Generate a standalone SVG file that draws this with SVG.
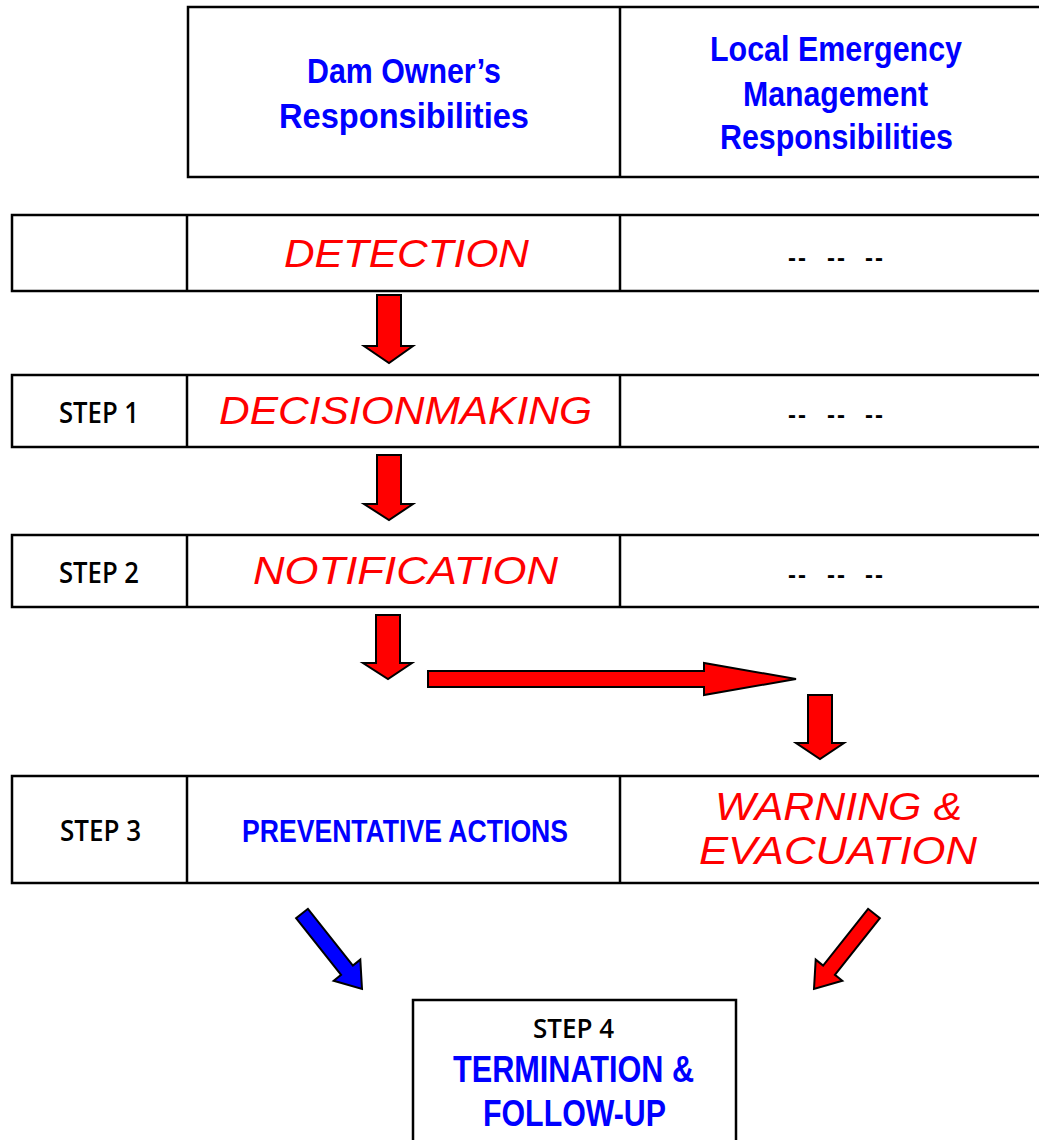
<svg xmlns="http://www.w3.org/2000/svg" width="1039" height="1140" viewBox="0 0 1039 1140">
<style>
.box{fill:#fff;stroke:#000;stroke-width:2.5}
.div{stroke:#000;stroke-width:2.5}
.blue{fill:#0000FF;font-family:'Liberation Sans Narrow','Arial Narrow','Liberation Sans',Arial,sans-serif;font-weight:bold}
.blk{fill:#000;font-family:'Open Sans','Liberation Sans',Arial,sans-serif;font-weight:600}
.red{fill:#FF0000;font-family:'Liberation Sans',Arial,sans-serif;font-style:italic}
.dash{fill:#000;font-family:'Liberation Sans',Arial,sans-serif;font-weight:bold;font-size:24px}
.ar{fill:#FF0000;stroke:#000;stroke-width:2;stroke-linejoin:miter}
.ab{fill:#0000FF;stroke:#000;stroke-width:2;stroke-linejoin:miter}
</style>
<rect width="1039" height="1140" fill="#fff"/>
<g id="header">
<rect class="box" x="188" y="7" width="880" height="170"/>
<line class="div" x1="620" y1="7" x2="620" y2="177"/>
<text class="blue" x="307" y="83" font-size="35" textLength="194" lengthAdjust="spacingAndGlyphs">Dam Owner’s</text>
<text class="blue" x="279" y="128" font-size="35" textLength="250" lengthAdjust="spacingAndGlyphs">Responsibilities</text>
<text class="blue" x="710" y="61" font-size="35" textLength="252" lengthAdjust="spacingAndGlyphs">Local Emergency</text>
<text class="blue" x="743" y="106" font-size="35" textLength="185" lengthAdjust="spacingAndGlyphs">Management</text>
<text class="blue" x="720" y="149" font-size="35" textLength="233" lengthAdjust="spacingAndGlyphs">Responsibilities</text>
</g>
<g id="detection">
<rect class="box" x="12" y="215" width="1056" height="76"/>
<line class="div" x1="187" y1="215" x2="187" y2="291"/>
<line class="div" x1="620" y1="215" x2="620" y2="291"/>
<text class="red" x="284" y="267" font-size="39" textLength="245" lengthAdjust="spacingAndGlyphs">DETECTION</text>
<text class="dash" x="788 798 827 837 865 875" y="266">------</text>
</g>
<g id="step1">
<rect class="box" x="12" y="375" width="1056" height="72"/>
<line class="div" x1="187" y1="375" x2="187" y2="447"/>
<line class="div" x1="620" y1="375" x2="620" y2="447"/>
<text class="blk" x="59" y="423" font-size="28" textLength="80" lengthAdjust="spacingAndGlyphs">STEP 1</text>
<text class="red" x="219" y="424" font-size="38" textLength="373" lengthAdjust="spacingAndGlyphs">DECISIONMAKING</text>
<text class="dash" x="788 798 827 837 865 875" y="423">------</text>
</g>
<g id="step2">
<rect class="box" x="12" y="535" width="1056" height="72"/>
<line class="div" x1="187" y1="535" x2="187" y2="607"/>
<line class="div" x1="620" y1="535" x2="620" y2="607"/>
<text class="blk" x="59" y="583" font-size="28" textLength="80" lengthAdjust="spacingAndGlyphs">STEP 2</text>
<text class="red" x="253" y="584" font-size="39" textLength="305" lengthAdjust="spacingAndGlyphs">NOTIFICATION</text>
<text class="dash" x="788 798 827 837 865 875" y="583">------</text>
</g>
<g id="step3">
<rect class="box" x="12" y="776" width="1056" height="107"/>
<line class="div" x1="187" y1="776" x2="187" y2="883"/>
<line class="div" x1="620" y1="776" x2="620" y2="883"/>
<text class="blk" x="60" y="841" font-size="28" textLength="81" lengthAdjust="spacingAndGlyphs">STEP 3</text>
<text class="blue" x="242" y="842" font-size="32" textLength="326" lengthAdjust="spacingAndGlyphs">PREVENTATIVE ACTIONS</text>
<text class="red" x="715" y="820" font-size="39" textLength="247" lengthAdjust="spacingAndGlyphs">WARNING &amp;</text>
<text class="red" x="699" y="864" font-size="39" textLength="278" lengthAdjust="spacingAndGlyphs">EVACUATION</text>
</g>
<g id="step4">
<rect class="box" x="413" y="1000" width="323" height="170"/>
<text class="blk" x="533" y="1038" font-size="27" textLength="81" lengthAdjust="spacingAndGlyphs">STEP 4</text>
<text class="blue" x="453" y="1082" font-size="37" textLength="241" lengthAdjust="spacingAndGlyphs">TERMINATION &amp;</text>
<text class="blue" x="483" y="1126" font-size="36" textLength="183" lengthAdjust="spacingAndGlyphs">FOLLOW-UP</text>
</g>
<g id="connectors">
<polygon class="ar" points="377,295 401,295 401,346 413,346 389,363 364,346 377,346"/>
<polygon class="ar" points="377,455 401,455 401,504 413,504 389,520 364,504 377,504"/>
<polygon class="ar" points="376,615 400,615 400,663 412,663 388,679 363,663 376,663"/>
<polygon class="ar" points="428,671 704,671 704,663 796,679 704,695 704,687 428,687"/>
<polygon class="ar" points="808,695 832,695 832,743 844,743 820,759 796,743 808,743"/>
<polygon class="ab" points="307.9,908.8 352.9,965.5 360.3,959.6 362,989 333.7,980.8 341.1,974.9 296.1,918.2"/>
<polygon class="ar" points="868.1,908.8 823.1,965.5 815.7,959.6 814,989 842.3,980.8 834.9,974.9 879.9,918.2"/>
</g>
</svg>
